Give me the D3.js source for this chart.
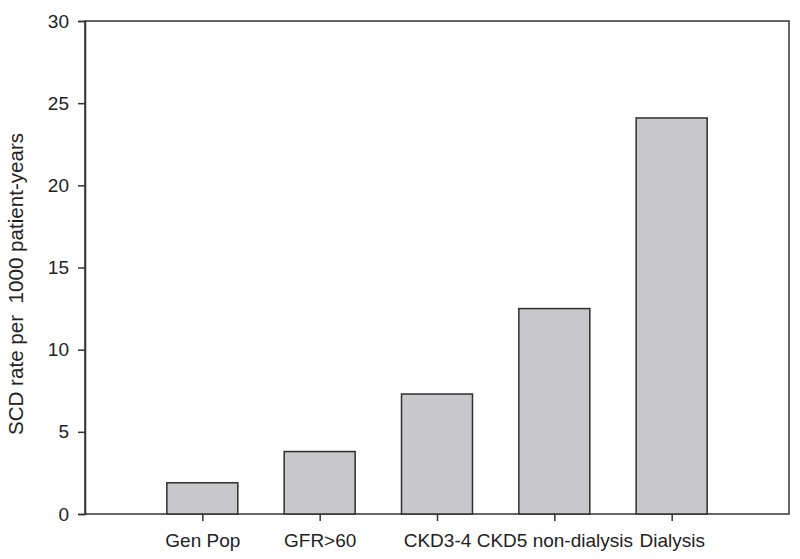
<!DOCTYPE html>
<html>
<head>
<meta charset="utf-8">
<script src="https://cdn.jsdelivr.net/npm/d3@7"></script>
<style>
  html, body { margin: 0; padding: 0; background: #fff; }
  svg { display: block; }
  text { font-family: "Liberation Sans", Arial, sans-serif; fill: #222; }
</style>
</head>
<body>
<svg id="chart" width="800" height="559"></svg>
<script>
const categories = ["Gen Pop", "GFR>60", "CKD3-4", "CKD5 non-dialysis", "Dialysis"];
const values = [1.9, 3.8, 7.3, 12.5, 24.1];
const yTicks = [0, 5, 10, 15, 20, 25, 30];
const yLabel = "SCD rate per\u00A0\u00A01000 patient-years";

const svg = d3.select("#chart");
const L = 85, R = 789, T = 21, B = 514;

const x = d3.scaleLinear().domain([0, categories.length + 1]).range([L, R]);
const y = d3.scaleLinear().domain([0, 30]).range([B, T]);
const step = x(1) - x(0);
const barW = step * 0.605;

// frame
svg.append("rect")
  .attr("x", L).attr("y", T).attr("width", R - L).attr("height", B - T)
  .attr("fill", "none").attr("stroke", "#333").attr("stroke-width", 1.5);

// bars
svg.selectAll("rect.bar").data(values).enter().append("rect")
  .attr("class", "bar")
  .attr("x", (d, i) => x(i + 1) - barW / 2)
  .attr("y", d => y(d))
  .attr("width", barW)
  .attr("height", d => y(0) - y(d))
  .attr("fill", "#c8c8ca")
  .attr("stroke", "#2e2e2e")
  .attr("stroke-width", 1.5);

// y axis
const yAxis = d3.axisLeft(y).tickValues(yTicks).tickSize(7).tickPadding(9);
const gy = svg.append("g").attr("transform", `translate(${L},0)`).call(yAxis);
gy.select(".domain").attr("stroke", "#333").attr("stroke-width", 1.5);
gy.selectAll(".tick line").attr("stroke", "#333").attr("stroke-width", 1.5);
gy.selectAll(".tick text").attr("font-size", 19).attr("fill", "#222")
  .style("font-family", "'Liberation Sans', Arial, sans-serif");

// x axis
const xAxis = d3.axisBottom(x)
  .tickValues(categories.map((c, i) => i + 1))
  .tickFormat((d) => categories[d - 1])
  .tickSize(7).tickPadding(13);
const gx = svg.append("g").attr("transform", `translate(0,${B})`).call(xAxis);
gx.select(".domain").remove();
gx.selectAll(".tick line").attr("stroke", "#333").attr("stroke-width", 1.5);
gx.selectAll(".tick text").attr("font-size", 19).attr("fill", "#222")
  .style("font-family", "'Liberation Sans', Arial, sans-serif");

// y label
svg.append("text")
  .attr("transform", `translate(23,284) rotate(-90)`)
  .attr("text-anchor", "middle")
  .attr("font-size", 20.6)
  .text(yLabel);
</script>
</body>
</html>
